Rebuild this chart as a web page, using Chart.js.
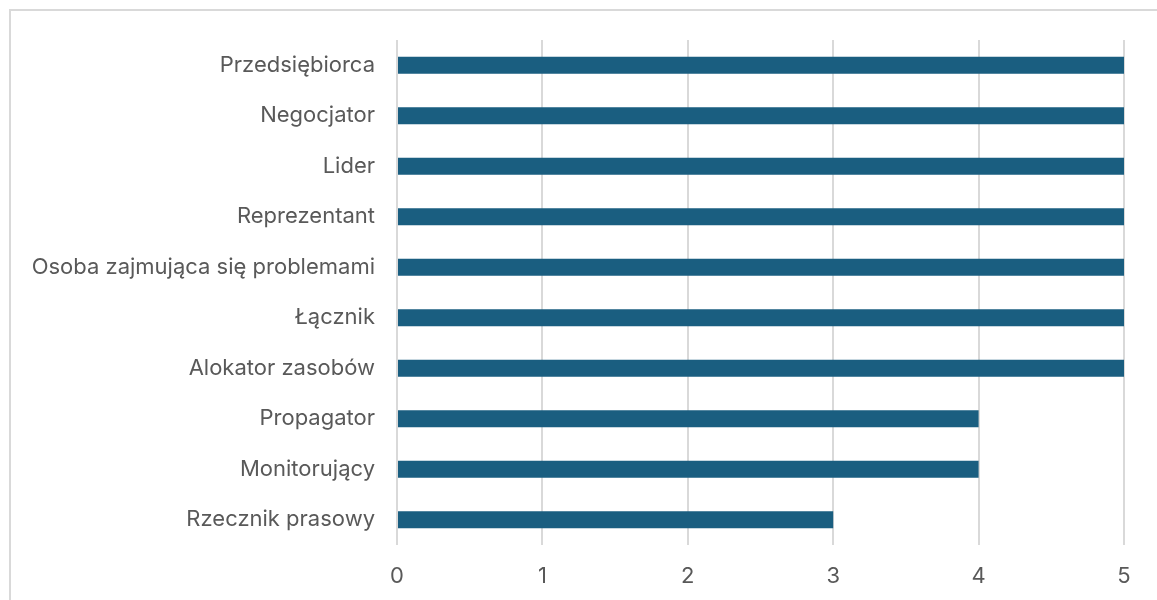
<!DOCTYPE html>
<html>
<head>
<meta charset="utf-8">
<script src="https://cdn.jsdelivr.net/npm/chart.js@4"></script>
<style>
  html, body { margin: 0; padding: 0; background: #fff; overflow: hidden; }
  #frame { position: absolute; left: 9px; top: 9px; width: 1160px; height: 620px; border: 2px solid #d9d9d9; box-sizing: border-box; }
  #wrap { position: absolute; left: 0; top: 0; width: 1157px; height: 600px; }
</style>
</head>
<body>
<div id="frame"></div>
<div id="wrap"><canvas id="rolesChart"></canvas></div>
<script>
// Role names, top to bottom
const roles = [
    'Przedsiębiorca',
    'Negocjator',
    'Lider',
    'Reprezentant',
    'Osoba zajmująca się problemami',
    'Łącznik',
    'Alokator zasobów',
    'Propagator',
    'Monitorujący',
    'Rzecznik prasowy'
];
const scores = [5, 5, 5, 5, 5, 5, 5, 4, 4, 3];
const xTicks = [0, 1, 2, 3, 4, 5];

const labelFont = { family: "Inter, 'Noto Sans', sans-serif", size: 22 };

new Chart("rolesChart", {
    type: 'bar',
    data: {
        labels: roles,
        datasets: [{
            data: scores,
            backgroundColor: '#1a5e80',
            barPercentage: 0.34,
            categoryPercentage: 1
        }]
    },
    options: {
        indexAxis: 'y',
        responsive: true,
        maintainAspectRatio: false,
        animation: false,
        layout: { padding: { top: 40, right: 33, bottom: 0, left: 0 } },
        plugins: {
            legend: { display: false },
            tooltip: { enabled: false }
        },
        scales: {
            x: {
                min: xTicks[0],
                max: xTicks[xTicks.length - 1],
                afterBuildTicks: scale => { scale.ticks = xTicks.map(v => ({ value: v })); },
                afterFit: scale => { scale.height = 55; },
                border: { display: false },
                grid: { color: '#d9d9d9', lineWidth: 2, drawTicks: false },
                ticks: { color: '#595959', font: labelFont, padding: 18 }
            },
            y: {
                afterFit: scale => { scale.width = 397; },
                border: { display: false },
                grid: { display: false, drawTicks: false },
                ticks: { color: '#595959', font: labelFont, padding: 22 }
            }
        }
    }
});
</script>
</body>
</html>
